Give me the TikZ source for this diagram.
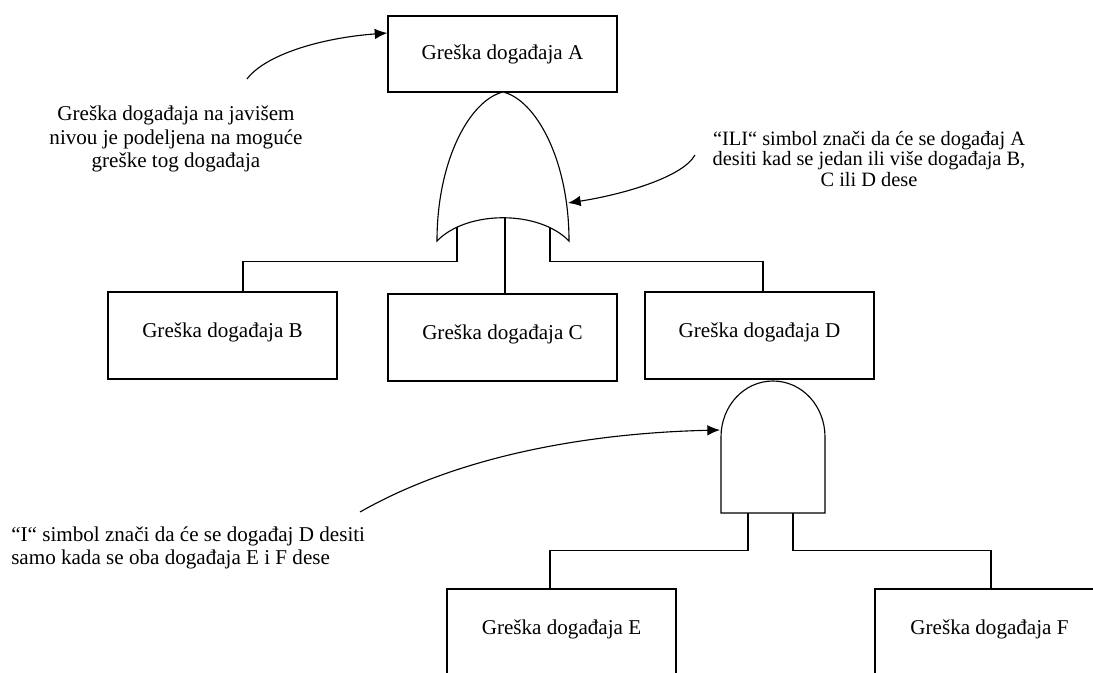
\documentclass[tikz,border=0pt]{standalone}
\usepackage{fontspec}
\setmainfont{Liberation Serif}
\usetikzlibrary{calc,arrows.meta}
\tikzset{
  event/.style={draw, line width=0.8pt, minimum width=5.725cm, minimum height=2.175cm, inner sep=0pt, font=\fontsize{15}{17}\selectfont, text depth=7pt},
  gate/.style={draw, line width=0.8pt, fill=white},
  lead/.style={draw, line width=0.8pt},
  note/.style={inner sep=0pt, align=center},
  pointer/.style={draw, line width=0.8pt, -{Latex[length=9pt,width=7.5pt]}}
}
\begin{document}
\begin{tikzpicture}[x=0.025cm,y=0.025cm]
        \useasboundingbox(0,0)rectangle(1093,-672);
        % events
        \node[event, minimum height=1.9cm, text depth=3pt](A)at(502.5,-54){Greška događaja A};
        \node[event](B)at(222.5,-335.5){Greška događaja B};
        \node[event](C)at(502.5,-337.5){Greška događaja C};
        \node[event](D)at(759.5,-335.5){Greška događaja D};
        \node[event](E)at(561.5,-632.5){Greška događaja E};
        \node[event](F)at(989.5,-632.5){Greška događaja F};
        % leads
        \coordinate(orL)at(457,-221);
        \coordinate(orC)at(505,-212);
        \coordinate(orR)at(550,-221);
        \coordinate(andL)at(748,-513);
        \coordinate(andR)at(793,-513);
        \path[lead](orL)|-($(B.north)+(20.5,30)$)--($(B.north)+(20.5,0)$);
        \path[lead](orC)--(orC|-C.north);
        \path[lead](orR)|-($(D.north)+(3.5,30)$)--($(D.north)+(3.5,0)$);
        \path[lead](andL)|-($(E.north)+(-11.5,38)$)--($(E.north)+(-11.5,0)$);
        \path[lead](andR)|-($(F.north)+(1.5,38)$)--($(F.north)+(1.5,0)$);
        % gates
        \path[gate](503,-92)..controls(470,-100)and(437,-160)..(437,-241)
            ..controls(467,-210)and(539,-210)..(569,-241)
            ..controls(569,-160)and(536,-100)..(503,-92)--cycle;
        \path[gate](721,-513)--(721,-437)..controls(721,-406)and(744,-381)..(773,-381)
            ..controls(802,-381)and(825,-406)..(825,-437)--(825,-513)--cycle;
        % notes
        \node[note, font=\fontsize{15}{17}\selectfont](noteTop)at(176,-139){Greška događaja na javišem\\nivou je podeljena na moguće\\greške tog događaja};
        \node[note, font=\fontsize{14.5}{14.5}\selectfont](noteOr)at(869,-159){“ILI“ simbol znači da će se događaj A\\desiti kad se jedan ili više događaja B,\\C ili D dese};
        \node[note, align=left, anchor=west, font=\fontsize{15}{16.3}\selectfont](noteAnd)at(11,-547.5){“I“ simbol znači da će se događaj D desiti\\samo kada se oba događaja E i F dese};
        % pointers
        \coordinate(pA)at(247,-79);
        \coordinate(pOr)at(695,-155);
        \coordinate(orTip)at(568,-203);
        \coordinate(pAnd)at(360,-512);
        \coordinate(andTip)at(720,-430);
        \path[pointer](pA)..controls(265,-55)and(320,-38)..($(A.west)+(0,21)$);
        \path[pointer](pOr)..controls(682,-178)and(620,-195)..(orTip);
        \path[pointer](pAnd)..controls(460,-455)and(590,-433)..(andTip);
\end{tikzpicture}
\end{document}
